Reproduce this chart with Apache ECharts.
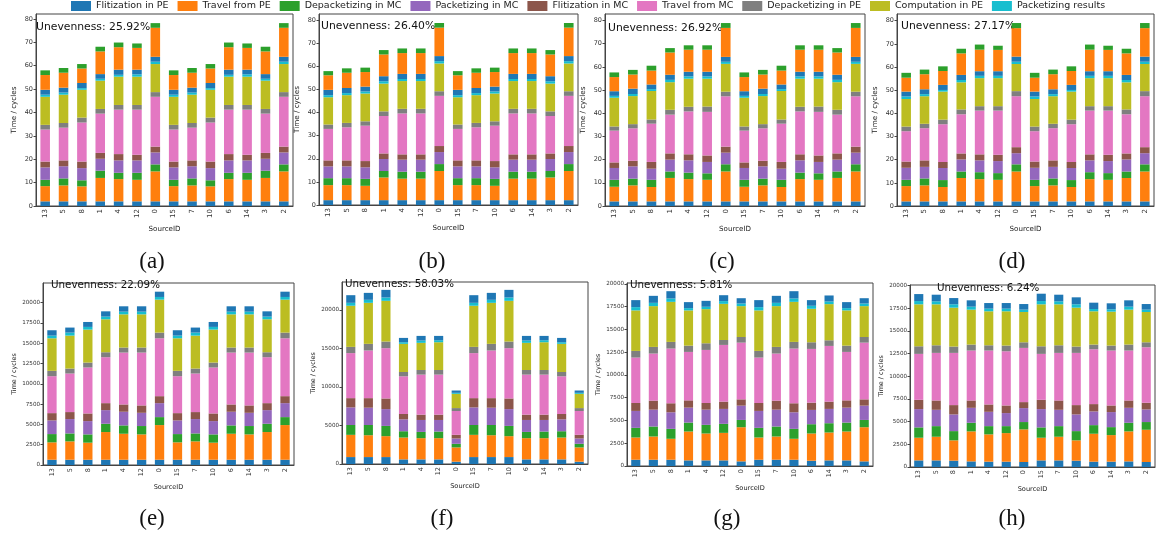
<!DOCTYPE html>
<html><head><meta charset="utf-8">
<script src="https://cdn.jsdelivr.net/npm/echarts@6/dist/echarts.min.js"></script>
<style>html,body{margin:0;padding:0;background:#fff}#c{width:1156px;height:537px}</style>
</head><body><div id="c"></div>
<script>
const categories = ['13','5','8','1','4','12','0','15','7','10','6','14','3','2'];
const legendNames = ['Flitization in PE','Travel from PE','Depacketizing in MC','Packetizing in MC','Flitization in MC','Travel from MC','Depacketizing in PE','Computation in PE','Packetizing results'];
// stack order bottom->top (12 segments; last three repeat first three phases)
const segmentNames = ['Flitization in PE','Travel from PE','Depacketizing in MC','Packetizing in MC','Flitization in MC','Travel from MC','Depacketizing in PE','Computation in PE','Packetizing results','Flitization in PE','Travel from PE','Depacketizing in MC'];
const unevenness = ['25.92%','26.40%','26.92%','27.17%','22.09%','58.03%','5.81%','6.24%'];
const captions = ['(a)','(b)','(c)','(d)','(e)','(f)','(g)','(h)'];

// rows: one per category (in category order), columns: segments bottom->top
const panelA = [
 [2.0,6.5,2.7,5.3,2.5,13.7,2.0,12.0,0.9,2.1,6.3,2.0],
 [2.0,6.8,3.0,5.2,2.5,14.0,2.0,12.1,0.9,2.1,6.4,2.0],
 [2.0,6.4,2.6,5.2,2.8,16.7,2.1,11.9,0.7,2.2,6.2,1.9],
 [2.0,10.0,3.1,5.1,2.5,16.8,2.0,12.1,0.8,2.0,9.7,2.0],
 [2.0,9.5,2.7,5.3,2.7,19.0,2.0,12.1,0.8,2.2,9.6,2.0],
 [2.0,9.2,3.0,5.3,2.4,19.3,2.0,12.1,1.0,2.0,9.3,1.9],
 [2.0,12.8,3.0,5.1,2.5,21.3,2.0,12.0,1.0,2.1,12.4,2.0],
 [2.0,6.5,2.7,5.3,2.5,13.7,2.0,12.0,0.9,2.1,6.3,2.0],
 [2.0,6.8,3.0,5.2,2.5,14.0,2.0,12.1,0.9,2.1,6.4,2.0],
 [2.0,6.4,2.6,5.2,2.8,16.7,2.1,11.9,0.7,2.2,6.2,1.9],
 [2.0,9.5,2.7,5.3,2.7,19.0,2.0,12.1,0.8,2.2,9.6,2.0],
 [2.0,9.2,3.0,5.3,2.4,19.3,2.0,12.1,1.0,2.0,9.3,1.9],
 [2.0,10.0,3.1,5.1,2.5,16.8,2.0,12.1,0.8,2.0,9.7,2.0],
 [2.0,12.8,3.0,5.1,2.5,21.3,2.0,12.0,1.0,2.1,12.4,2.0]
];
const panelB = [
 [2.1,6.5,3.0,5.1,2.6,13.6,1.9,11.8,0.9,2.3,6.3,1.8],
 [2.1,6.5,3.0,5.1,2.6,14.3,1.9,12.0,0.9,2.2,6.6,1.9],
 [2.1,6.2,3.0,5.0,2.7,15.3,1.9,12.0,0.9,2.1,6.3,1.9],
 [2.1,9.8,2.8,5.2,2.4,16.2,2.0,12.0,1.0,2.2,9.4,1.9],
 [2.1,9.3,3.0,5.2,2.3,17.7,2.0,12.0,0.9,2.2,9.0,2.0],
 [2.1,9.3,3.0,5.2,2.3,17.7,2.0,12.0,0.9,2.2,9.0,2.0],
 [2.1,12.6,3.0,5.2,2.6,21.7,2.0,12.0,1.0,2.2,12.3,2.0],
 [2.1,6.5,3.0,5.1,2.6,13.6,1.9,11.8,0.9,2.3,6.3,1.8],
 [2.1,6.5,3.0,5.1,2.6,14.3,1.9,12.0,0.9,2.2,6.6,1.9],
 [2.1,6.2,3.0,5.0,2.7,15.3,1.9,12.0,0.9,2.1,6.3,1.9],
 [2.1,9.3,3.0,5.2,2.3,17.7,2.0,12.0,0.9,2.2,9.0,2.0],
 [2.1,9.3,3.0,5.2,2.3,17.7,2.0,12.0,0.9,2.2,9.0,2.0],
 [2.1,9.8,2.8,5.2,2.4,16.2,2.0,12.0,1.0,2.2,9.4,1.9],
 [2.1,12.6,3.0,5.2,2.6,21.7,2.0,12.0,1.0,2.2,12.3,2.0]
];
const panelC = [
 [2.0,6.3,3.0,5.1,2.4,13.7,1.8,12.4,0.8,2.0,6.1,2.0],
 [2.0,6.9,2.9,5.3,2.4,14.0,1.8,12.1,0.9,2.3,6.1,2.0],
 [2.0,6.2,3.1,4.8,2.9,16.5,1.8,12.3,0.8,2.0,6.0,2.1],
 [2.0,10.1,2.8,5.1,2.7,16.7,2.1,11.9,1.0,2.2,9.6,1.9],
 [2.0,9.6,2.8,5.3,2.6,18.5,2.0,12.1,1.0,2.0,9.5,1.9],
 [2.0,9.3,2.8,4.9,2.8,18.8,2.3,12.0,1.0,2.0,9.5,1.9],
 [2.0,12.9,3.1,5.0,2.6,21.7,2.0,12.0,0.9,2.1,12.5,2.1],
 [2.0,6.3,3.0,5.1,2.4,13.7,1.8,12.4,0.8,2.0,6.1,2.0],
 [2.0,6.9,2.9,5.3,2.4,14.0,1.8,12.1,0.9,2.3,6.1,2.0],
 [2.0,6.2,3.1,4.8,2.9,16.5,1.8,12.3,0.8,2.0,6.0,2.1],
 [2.0,9.6,2.8,5.3,2.6,18.5,2.0,12.1,1.0,2.0,9.5,1.9],
 [2.0,9.3,2.8,4.9,2.8,18.8,2.3,12.0,1.0,2.0,9.5,1.9],
 [2.0,10.1,2.8,5.1,2.7,16.7,2.1,11.9,1.0,2.2,9.6,1.9],
 [2.0,12.9,3.1,5.0,2.6,21.7,2.0,12.0,0.9,2.1,12.5,2.1]
];
const panelD = [
 [2.0,6.6,2.7,5.2,2.7,13.1,2.0,11.9,1.1,2.1,6.0,2.1],
 [2.0,6.9,3.0,5.0,2.8,13.9,1.9,11.9,0.9,2.1,6.5,2.0],
 [2.0,6.2,3.0,5.2,2.6,16.3,2.0,12.1,0.7,2.2,6.0,2.0],
 [2.0,10.1,2.8,5.2,2.6,16.9,2.1,11.7,1.0,2.2,9.3,2.0],
 [2.0,9.6,3.0,5.1,2.6,18.9,1.9,12.1,1.0,2.0,9.3,2.2],
 [2.0,9.3,2.9,5.2,2.7,19.1,1.9,12.1,1.0,2.0,9.2,1.8],
 [2.0,12.9,3.1,4.8,2.6,22.0,2.2,11.7,1.0,2.2,12.3,2.2],
 [2.0,6.6,2.7,5.2,2.7,13.1,2.0,11.9,1.1,2.1,6.0,2.1],
 [2.0,6.9,3.0,5.0,2.8,13.9,1.9,11.9,0.9,2.1,6.5,2.0],
 [2.0,6.2,3.0,5.2,2.6,16.3,2.0,12.1,0.7,2.2,6.0,2.0],
 [2.0,9.6,3.0,5.1,2.6,18.9,1.9,12.1,1.0,2.0,9.3,2.2],
 [2.0,9.3,2.9,5.2,2.7,19.1,1.9,12.1,1.0,2.0,9.2,1.8],
 [2.0,10.1,2.8,5.2,2.6,16.9,2.1,11.7,1.0,2.2,9.3,2.0],
 [2.0,12.9,3.1,4.8,2.6,22.0,2.2,11.7,1.0,2.2,12.3,2.2]
];
const panelE = [
 [650,2140,1020,1680,900,4550,660,4010,330,660,0,0],
 [650,2260,980,1770,860,4750,610,4060,370,620,0,0],
 [650,2100,1020,1640,940,5660,610,4060,330,610,0,0],
 [650,3410,1020,1680,860,5660,610,4060,330,650,0,0],
 [650,3200,1030,1680,900,6390,620,4090,330,660,0,0],
 [650,3120,1030,1630,910,6510,620,4090,330,660,0,0],
 [650,4270,980,1720,860,7130,700,4060,330,650,0,0],
 [650,2140,1020,1680,900,4550,660,4010,330,660,0,0],
 [650,2260,980,1770,860,4750,610,4060,370,620,0,0],
 [650,2100,1020,1640,940,5660,610,4060,330,610,0,0],
 [650,3200,1030,1680,900,6390,620,4090,330,660,0,0],
 [650,3120,1030,1630,910,6510,620,4090,330,660,0,0],
 [650,3410,1020,1680,860,5660,610,4060,330,650,0,0],
 [650,4270,980,1720,860,7130,700,4060,330,650,0,0]
];
const panelF = [
 [900,2880,1280,2280,1200,5840,810,5330,380,990,0,0],
 [900,2830,1330,2240,1240,6180,860,5320,390,900,0,0],
 [900,2710,1330,2180,1380,6520,860,5280,430,990,0,0],
 [600,2830,820,1540,690,4890,560,3650,210,560,0,0],
 [600,2750,810,1550,690,5190,600,3520,300,600,0,0],
 [600,2750,860,1500,690,5190,600,3600,260,560,0,0],
 [300,1850,470,690,470,3090,380,1850,130,300,0,0],
 [900,2880,1280,2280,1200,5840,810,5330,380,990,0,0],
 [900,2830,1330,2240,1240,6180,860,5320,390,900,0,0],
 [900,2710,1330,2180,1380,6520,860,5280,430,990,0,0],
 [600,2750,810,1550,690,5190,600,3520,300,600,0,0],
 [600,2750,860,1500,690,5190,600,3600,260,560,0,0],
 [600,2830,820,1540,690,4890,560,3650,210,560,0,0],
 [300,1850,470,690,470,3090,380,1850,130,300,0,0]
];
const panelG = [
 [690,2440,1060,1860,870,4990,730,4450,360,770,0,0],
 [690,2550,1100,1850,990,5170,730,4480,360,770,0,0],
 [690,2300,1090,1820,990,6010,730,4400,370,800,0,0],
 [620,3170,980,1640,800,5320,690,3870,250,660,0,0],
 [620,2950,950,1670,730,5830,730,3750,260,650,0,0],
 [620,3020,990,1640,800,6230,540,3970,300,650,0,0],
 [510,3750,800,1570,690,6230,620,3390,290,580,0,0],
 [690,2440,1060,1860,870,4990,730,4450,360,770,0,0],
 [690,2550,1100,1850,990,5170,730,4480,360,770,0,0],
 [690,2300,1090,1820,990,6010,730,4400,370,800,0,0],
 [580,2990,1020,1570,800,5900,730,3680,330,620,0,0],
 [620,3060,1020,1570,800,6120,620,3970,290,660,0,0],
 [620,3170,980,1640,800,5320,690,3870,250,660,0,0],
 [510,3750,800,1570,690,6230,620,3390,290,580,0,0]
];
const panelH = [
 [730,2500,1140,2020,1020,5070,840,4630,360,770,0,0],
 [730,2610,1170,1800,1030,5250,840,4520,330,730,0,0],
 [700,2240,1020,1840,1030,5760,700,4290,370,690,0,0],
 [620,3310,950,1650,810,5510,660,3850,330,700,0,0],
 [590,3010,910,1580,810,5950,580,3750,290,620,0,0],
 [590,3150,770,1440,840,5980,630,3780,290,620,0,0],
 [550,3600,810,1540,660,5980,620,3340,260,620,0,0],
 [730,2500,1140,2020,1020,5070,840,4630,360,810,0,0],
 [730,2610,1170,1800,1030,5250,840,4520,330,730,0,0],
 [700,2240,1020,1840,1030,5760,700,4290,370,770,0,0],
 [590,3080,950,1510,810,6050,520,3670,250,700,0,0],
 [590,2930,880,1660,730,6060,550,3740,260,660,0,0],
 [620,3310,950,1650,810,5510,660,3850,330,700,0,0],
 [550,3560,850,1390,740,6120,550,3340,260,620,0,0]
];
const panels = [panelA,panelB,panelC,panelD,panelE,panelF,panelG,panelH];
const yMax = [82.1,82.6,82.8,82.9,22420,23600,20100,20080];
const yInterval = [10,10,10,10,2500,5000,2500,2500];

// layout
const colors = {'Flitization in PE':'#1f77b4','Travel from PE':'#ff7f0e','Depacketizing in MC':'#2ca02c','Packetizing in MC':'#9467bd','Flitization in MC':'#8c564b','Travel from MC':'#e377c2','Depacketizing in PE':'#7f7f7f','Computation in PE':'#bcbd22','Packetizing results':'#17becf'};
const grids = [
 {left:36,top:14,width:257,height:192},
 {left:319,top:14,width:259,height:191},
 {left:605,top:14,width:260,height:192},
 {left:897,top:14,width:257,height:192},
 {left:43,top:283,width:251,height:182},
 {left:342,top:282,width:246,height:182},
 {left:627,top:283,width:246,height:183},
 {left:910,top:285,width:245,height:182}
];
const unevenPos = [[36,29],[321,28],[608,30],[901,28],[51,287],[345,286],[630,287],[937,290]];
const captionPos = [[152,262],[432,262],[722,262],[1012,262],[152,519],[442,519],[727,519],[1012,519]];
const FONT = 'DejaVu Sans';

const option = {
  animation:false,
  legend:{data:legendNames,left:71,top:1,padding:0,itemWidth:20,itemHeight:10,itemGap:9,
    textStyle:{fontFamily:FONT,fontSize:9.5,color:'#222'},icon:'rect'},
  grid:[],xAxis:[],yAxis:[],series:[],graphic:[]
};
panels.forEach((p,i)=>{
  const top = i<4;
  option.grid.push(Object.assign({show:true,borderColor:'#444',borderWidth:1,backgroundColor:'transparent'},grids[i]));
  option.xAxis.push({type:'category',gridIndex:i,data:categories,
    name:'SourceID',nameLocation:'middle',nameGap:top?20:19,
    nameTextStyle:{fontFamily:FONT,fontSize:top?7.1:6.6,color:'#222'},
    axisLine:{show:true,lineStyle:{color:'#444',width:1}},
    axisTick:{alignWithLabel:true,length:2.5,lineStyle:{color:'#444'}},
    axisLabel:{rotate:90,fontFamily:FONT,fontSize:top?7:6.5,color:'#333',margin:3}});
  option.yAxis.push({type:'value',gridIndex:i,min:0,max:yMax[i],interval:yInterval[i],
    name:'Time / cycles',nameLocation:'middle',nameGap:top?18:26,
    nameTextStyle:{fontFamily:FONT,fontSize:top?7.2:6.4,color:'#222'},
    splitLine:{show:false},
    axisLine:{show:true,lineStyle:{color:'#444',width:1}},
    axisTick:{show:true,length:2.5,lineStyle:{color:'#444'}},
    axisLabel:{fontFamily:FONT,fontSize:top?6.5:5.6,color:'#333',margin:3,showMaxLabel:false,
      formatter:v=>String(v)}});
  segmentNames.forEach((nm,k)=>{
    option.series.push({type:'bar',name:nm,xAxisIndex:i,yAxisIndex:i,stack:'s'+i,
      barWidth:'52%',data:p.map(r=>r[k]),
      itemStyle:{color:colors[nm]},emphasis:{disabled:true}});
  });
  option.graphic.push({type:'text',left:unevenPos[i][0],top:unevenPos[i][1]-(top?7:6.5),
    style:{text:'Unevenness: '+unevenness[i],font:(top?'10.8px ':'10.3px ')+FONT,fill:'#111'}});
  option.graphic.push({type:'text',x:captionPos[i][0],y:captionPos[i][1],
    style:{text:captions[i],font:'23px "Liberation Serif"',fill:'#111',textAlign:'center',textVerticalAlign:'middle'}});
});
const chart = echarts.init(document.getElementById('c'),null,{renderer:'canvas'});
chart.setOption(option);
</script></body></html>
